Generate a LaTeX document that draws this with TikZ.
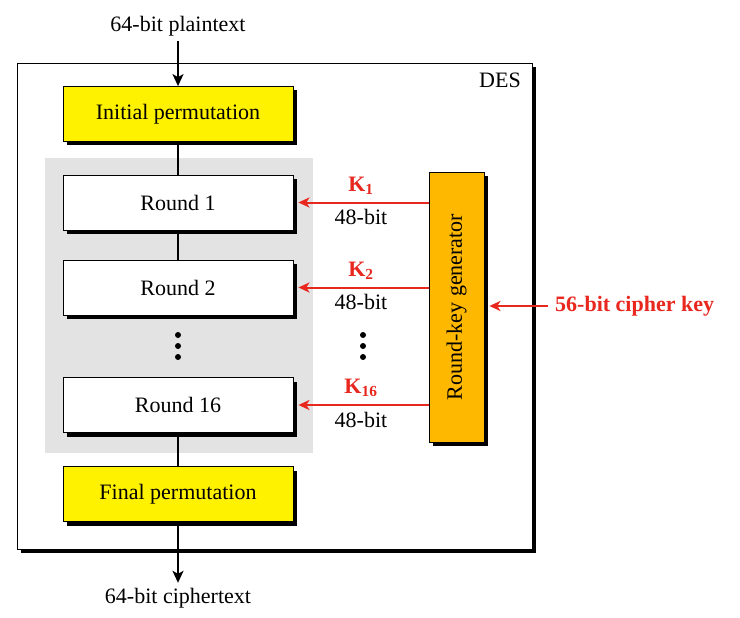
\documentclass[tikz,border=0pt]{standalone}
\usepackage{fontspec}
\setmainfont{Liberation Serif}
\usetikzlibrary{arrows.meta,shadows}
\definecolor{desyellow}{HTML}{FFF200}
\definecolor{desorange}{HTML}{FFB800}
\definecolor{desgray}{HTML}{E3E3E3}
\definecolor{desred}{HTML}{E8271F}
\tikzset{
  shad/.style={drop shadow={shadow xshift=4pt,shadow yshift=-4pt,fill=black,opacity=1}},
  box/.style={draw=black, line width=0.8pt, minimum width=230pt, minimum height=55pt, inner sep=0pt, shad, font=\fontsize{22}{26}\selectfont},
  perm/.style={box, fill=desyellow},
  rnd/.style={box, fill=white},
  txt/.style={inner sep=2pt, font=\fontsize{22}{26}\selectfont},
  link/.style={line width=1.8pt},
  inarrow/.style={line width=1.8pt, -{Stealth[length=12pt,width=11pt,inset=3pt]}},
  keyarrow/.style={draw=desred, line width=2pt, -{Stealth[length=11pt,width=10pt,inset=3pt]}},
  keylab/.style={inner sep=2pt, text=desred, font=\fontsize{22}{26}\selectfont\bfseries},
  dot/.style={fill=black}
}
\begin{document}
\begin{tikzpicture}[x=1pt,y=-1pt]
\useasboundingbox (0,0) rectangle (740,618);
% outer DES frame
\node[draw=black, line width=0.8pt, fill=white, shad, minimum width=515pt, minimum height=486pt, inner sep=0pt] (des) at (274.5,306) {};
\node[txt, anchor=east] (deslab) at (523,80) {DES};
% gray area of rounds
\fill[desgray] (45,158) rectangle (313,453);
% boxes
\node[perm] (init) at (178,114) {Initial permutation};
\node[rnd] (r1) at (178,202.5) {Round 1};
\node[rnd] (r2) at (178,287.5) {Round 2};
\node[rnd] (r16) at (178,405) {Round 16};
\node[perm] (final) at (178,494) {Final permutation};
\node[draw=black, line width=0.8pt, fill=desorange, shad, minimum width=55pt, minimum height=270pt, inner sep=0pt] (gen) at (456.5,307) {\fontsize{22}{26}\selectfont\rotatebox{90}{Round-key generator}};
% texts
\node[txt] (plain) at (178,26) {64-bit plaintext};
\node[txt] (cipher) at (178,598) {64-bit ciphertext};
\node[keylab, anchor=west, inner sep=0pt] (key) at (555,306) {56-bit cipher key};
% connectors
\draw[inarrow, shorten <=3pt] (plain.south) -- (init.north);
\draw[link] (init.south) -- (r1.north);
\draw[link] (r1.south) -- (r2.north);
\draw[link] (r16.south) -- (final.north);
\draw[inarrow, shorten >=3pt] (final.south) -- (cipher.north);
% dots
\foreach \yy in {335,346,357} {
  \fill[dot] (178,\yy) circle (3pt);
  \fill[dot] (363,\yy) circle (3pt);
}
% key arrows
\draw[keyarrow, shorten >=5pt] (gen.west |- r1.east) -- node[keylab, above=5pt] {K\textsubscript{1}} node[txt, below=4pt] {48-bit} (r1.east);
\draw[keyarrow, shorten >=5pt] (gen.west |- r2.east) -- node[keylab, above=5pt] {K\textsubscript{2}} node[txt, below=4pt] {48-bit} (r2.east);
\draw[keyarrow, shorten >=5pt] (gen.west |- r16.east) -- node[keylab, above=5pt] {K\textsubscript{16}} node[txt, below=4pt] {48-bit} (r16.east);
\draw[keyarrow, shorten <=7pt, shorten >=5pt] (key.west) -- (gen.east |- key.west);
\end{tikzpicture}
\end{document}
